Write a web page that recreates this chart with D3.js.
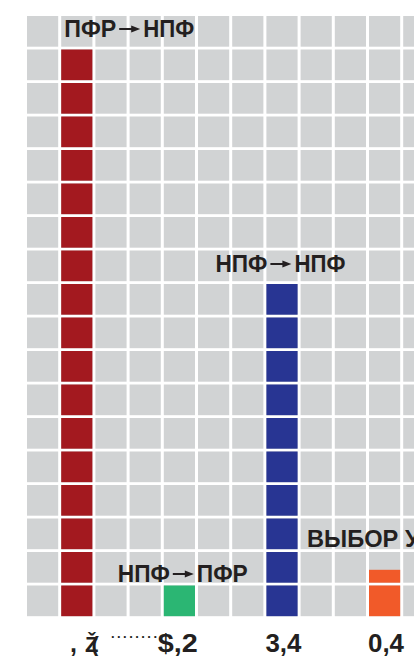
<!DOCTYPE html>
<html><head><meta charset="utf-8">
<script src="https://cdn.jsdelivr.net/npm/d3@7"></script>
<style>html,body{margin:0;padding:0;background:#fff;overflow:hidden}svg{display:block}</style>
</head><body>
<svg id="chart" width="414" height="656"></svg>
<script>
// ---- data ----
const categories = ["ПФР→НПФ", "НПФ→ПФР", "НПФ→НПФ", "ВЫБОР УК"];
const fromLabels = ["ПФР", "НПФ", "НПФ", "ВЫБОР УК"];
const toLabels = ["НПФ", "ПФР", "НПФ", null];
const barCells = [17, 1, 10, 1.42];          // bar height in grid cells
const barColumn = [1, 4, 7, 10];              // grid column holding each bar
const valueLabels = ["$,2", "3,4", "0,4"];    // bottom labels for green, blue, orange
const valueLabelBar = [1, 2, 3];
const gridColumns = d3.range(12);
const gridRows = d3.range(18);

// ---- styles / layout ----
const colorOf = {0: "#a3191f", 1: "#2bb673", 2: "#283593", 3: "#f15a29"};
const gridColor = "#d1d3d4";
const textColor = "#231f20";
const labelLayout = [
  {dx: 3, baseline: 37},
  {dx: -46, baseline: 582},
  {dx: -51, baseline: 272},
  {dx: -62, baseline: 547, len: 127}
];

const svg = d3.select("#chart");
const step = 34.2, rstep = 33.5;
const x = d3.scaleBand().domain(gridColumns).range([27, 27 + step * (12 - 0.088)]).paddingInner(0.088);
const y = d3.scaleBand().domain(gridRows).range([16, 16 + rstep * (18 - 0.084)]).paddingInner(0.084);
const bw = x.bandwidth(), bh = y.bandwidth();
const lastRow = gridRows[gridRows.length - 1];

// grid cells
const cells = [];
gridRows.forEach(r => gridColumns.forEach(c => cells.push({r, c})));
svg.append("g").selectAll("rect").data(cells).join("rect")
  .attr("x", d => x(d.c)).attr("y", d => y(d.r))
  .attr("width", bw).attr("height", bh).attr("fill", gridColor);

// bars as stacked cells
const barPieces = [];
barCells.forEach((v, i) => {
  for (let k = 0; k < Math.ceil(v); k++) {
    barPieces.push({i, row: lastRow - k, frac: Math.min(1, v - k)});
  }
});
svg.append("g").selectAll("rect").data(barPieces).join("rect")
  .attr("x", d => x(barColumn[d.i]))
  .attr("y", d => y(d.row) + bh * (1 - d.frac))
  .attr("width", bw).attr("height", d => bh * d.frac)
  .attr("fill", d => colorOf[d.i]);

// category labels with arrows
const font = "'Liberation Sans', Arial, sans-serif";
categories.forEach((cat, i) => {
  const L = labelLayout[i];
  const g = svg.append("g").attr("fill", textColor)
    .style("font-family", font).style("font-weight", "bold").style("font-size", "24px");
  let cx = x(barColumn[i]) + L.dx;
  g.append("text").attr("x", cx).attr("y", L.baseline).text(fromLabels[i])
    .attr("textLength", L.len || 52).attr("lengthAdjust", "spacingAndGlyphs");
  if (toLabels[i]) {
    cx += 52 + 3;
    const ay = L.baseline - 8;
    const aw = 21;
    g.append("line").attr("x1", cx).attr("x2", cx + aw - 7).attr("y1", ay).attr("y2", ay)
      .attr("stroke", textColor).attr("stroke-width", 2);
    g.append("path").attr("d", `M${cx + aw - 9},${ay - 3.5}L${cx + aw},${ay}L${cx + aw - 9},${ay + 3.5}Z`);
    cx += aw + 3;
    g.append("text").attr("x", cx).attr("y", L.baseline).text(toLabels[i])
      .attr("textLength", 51).attr("lengthAdjust", "spacingAndGlyphs");
  }
});

// bottom value labels
const bottom = svg.append("g").attr("fill", textColor)
  .style("font-family", font).style("font-weight", "bold");
valueLabels.forEach((lab, j) => {
  const i = valueLabelBar[j];
  const isDollar = lab.startsWith("$");
  bottom.append("text")
    .attr("x", x(barColumn[i]) + (isDollar ? -6 : -1))
    .attr("y", 652).style("font-size", "25px")
    .attr("textLength", isDollar ? 40 : 36).attr("lengthAdjust", "spacingAndGlyphs")
    .text(lab);
});
// garbled first label fragments
bottom.append("text").attr("x", 70).attr("y", 652).style("font-size", "25px").text(",");
bottom.append("text").attr("x", 85).attr("y", 652).style("font-size", "22px")
  .style("letter-spacing", "-7px").text("Ž(");
bottom.append("text").attr("x", 111).attr("y", 638).style("font-size", "13px")
  .attr("textLength", 46).attr("lengthAdjust", "spacing").text("........");
</script>
</body></html>
